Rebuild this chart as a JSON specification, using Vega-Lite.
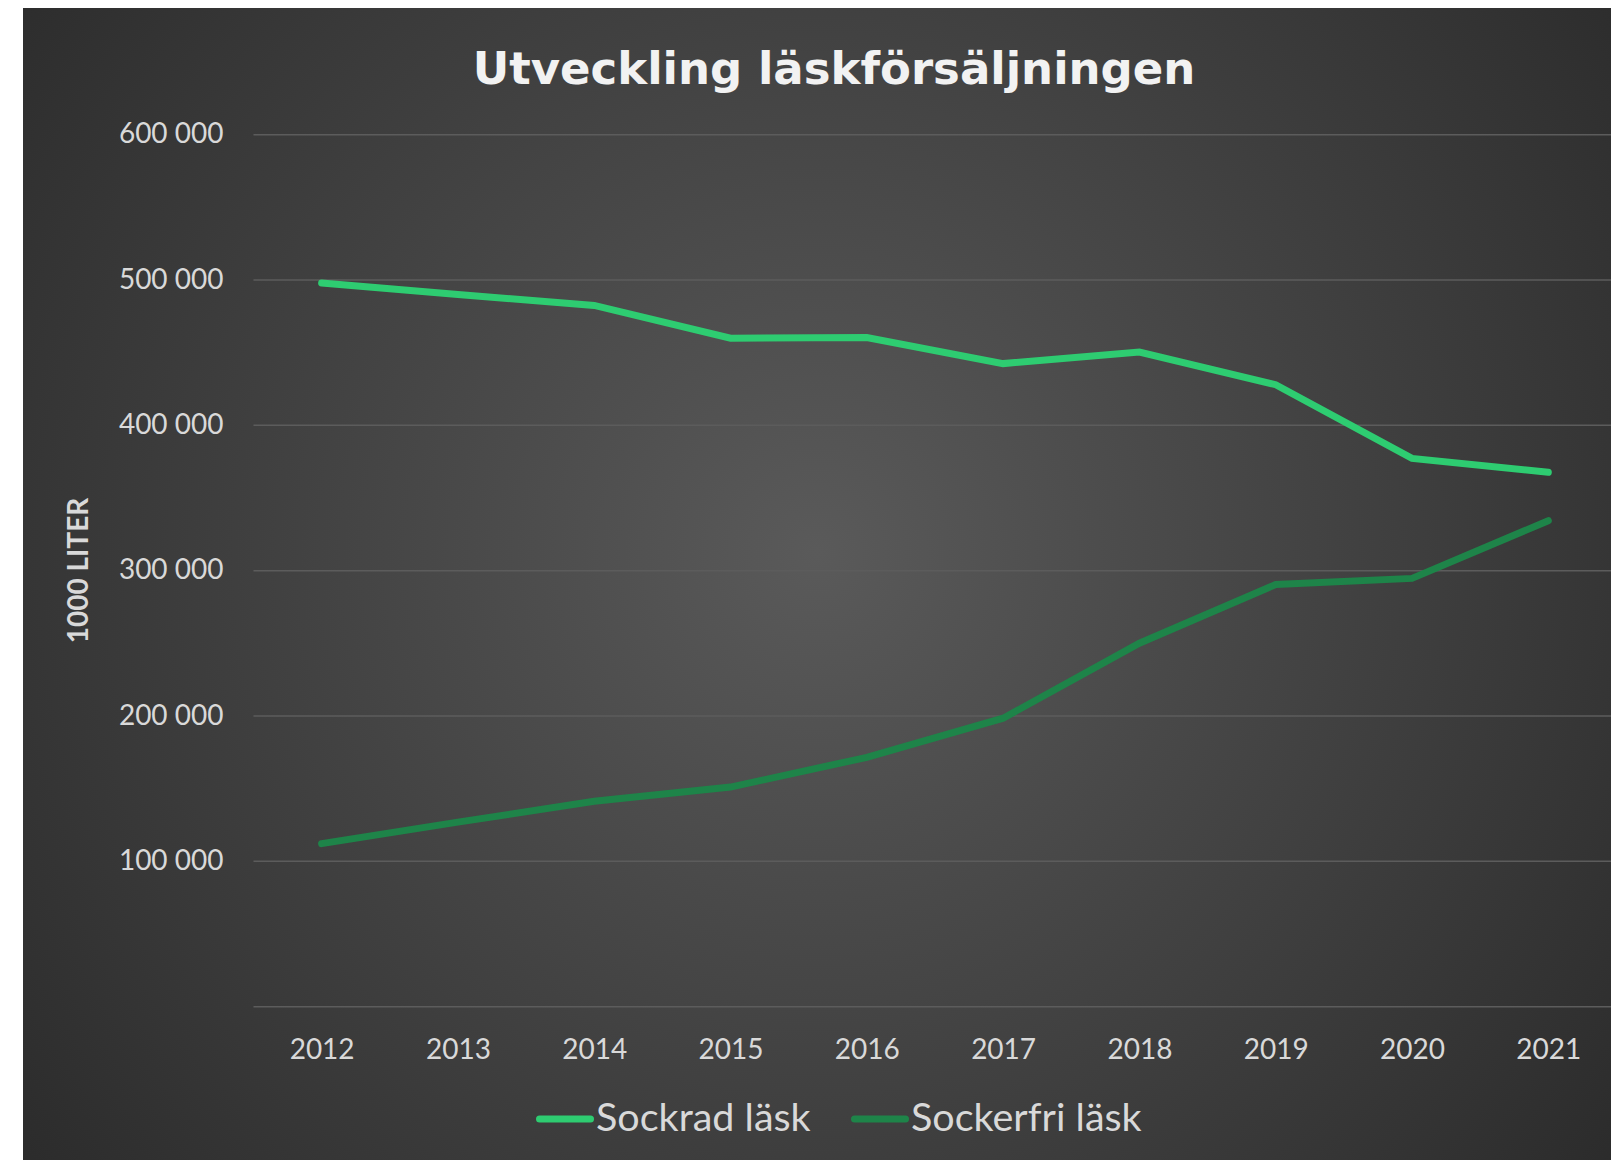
{
  "$schema": "https://vega.github.io/schema/vega-lite/v6.json",
  "width": 1588,
  "height": 1152,
  "autosize": {"type": "none"},
  "padding": {"left": 23, "top": 8, "right": 0, "bottom": 0},
  "background": "#ffffff",
  "config": {
    "view": {
      "stroke": null,
      "fill": {
        "gradient": "radial",
        "x1": 0.5, "y1": 0.48, "r1": 0,
        "x2": 0.5, "y2": 0.48, "r2": 0.72,
        "stops": [
          {"offset": 0, "color": "#5a5a5a"},
          {"offset": 1, "color": "#252525"}
        ]
      }
    }
  },
  "title": {
    "text": "Utveckling läskförsäljningen",
    "font": "DejaVu Sans",
    "fontWeight": "bold",
    "fontSize": 45,
    "color": "#f2f2f2",
    "anchor": "middle",
    "frame": "group",
    "orient": "top",
    "offset": 0,
    "baseline": "alphabetic",
    "dx": 17,
    "dy": 121
  },
  "layer": [
    {
      "data": {"values": [
        {"g": 0}, {"g": 100000}, {"g": 200000}, {"g": 300000},
        {"g": 400000}, {"g": 500000}, {"g": 600000}
      ]},
      "mark": {"type": "rule", "color": "#5c5c5c", "strokeWidth": 1.5},
      "encoding": {
        "y": {"field": "g", "type": "quantitative"},
        "x": {"datum": 2011.5, "type": "quantitative"},
        "x2": {"datum": 2021.5}
      }
    },
    {
      "data": {"values": [
        {"year": 2012, "series": "Sockrad läsk", "value": 498000},
        {"year": 2013, "series": "Sockrad läsk", "value": 490000},
        {"year": 2014, "series": "Sockrad läsk", "value": 482500},
        {"year": 2015, "series": "Sockrad läsk", "value": 460000},
        {"year": 2016, "series": "Sockrad läsk", "value": 460500},
        {"year": 2017, "series": "Sockrad läsk", "value": 442500},
        {"year": 2018, "series": "Sockrad läsk", "value": 450500},
        {"year": 2019, "series": "Sockrad läsk", "value": 428000},
        {"year": 2020, "series": "Sockrad läsk", "value": 377300},
        {"year": 2021, "series": "Sockrad läsk", "value": 367700},
        {"year": 2012, "series": "Sockerfri läsk", "value": 112200},
        {"year": 2013, "series": "Sockerfri läsk", "value": 127000},
        {"year": 2014, "series": "Sockerfri läsk", "value": 141300},
        {"year": 2015, "series": "Sockerfri läsk", "value": 151100},
        {"year": 2016, "series": "Sockerfri läsk", "value": 171600},
        {"year": 2017, "series": "Sockerfri läsk", "value": 198500},
        {"year": 2018, "series": "Sockerfri läsk", "value": 250100},
        {"year": 2019, "series": "Sockerfri läsk", "value": 290500},
        {"year": 2020, "series": "Sockerfri läsk", "value": 294700},
        {"year": 2021, "series": "Sockerfri läsk", "value": 334400}
      ]},
      "mark": {"type": "line", "strokeWidth": 7, "strokeCap": "round"},
      "encoding": {
        "x": {
          "field": "year",
          "type": "quantitative",
          "scale": {"domain": [2009.809, 2021.46], "nice": false, "zero": false},
          "axis": {
            "orient": "bottom",
            "values": [2012, 2013, 2014, 2015, 2016, 2017, 2018, 2019, 2020, 2021],
            "format": "d",
            "title": null,
            "offset": -102,
            "labelPadding": 0,
            "ticks": false,
            "tickSize": 0,
            "domain": false,
            "grid": false,
            "labelFont": "Lato",
            "labelFontSize": 28,
            "labelColor": "#d9d9d9",
            "labelBaseline": "alphabetic",
            "labelOverlap": false,
            "labelFlush": false
          }
        },
        "y": {
          "field": "value",
          "type": "quantitative",
          "scale": {"domain": [-105482, 687179], "nice": false, "zero": false},
          "axis": {
            "orient": "left",
            "values": [100000, 200000, 300000, 400000, 500000, 600000],
            "labelExpr": "format(datum.value / 1000, 'd') + ' 000'",
            "offset": -200,
            "labelPadding": 0,
            "ticks": false,
            "tickSize": 0,
            "domain": false,
            "grid": false,
            "labelFont": "Lato",
            "labelFontSize": 28,
            "labelColor": "#d9d9d9",
            "labelOverlap": false,
            "labelFlush": false,
            "title": "1000 LITER",
            "titleFont": "Lato",
            "titleFontWeight": "bold",
            "titleFontSize": 28,
            "titleColor": "#d9d9d9",
            "titleAngle": -90,
            "titleAlign": "center",
            "titleBaseline": "middle",
            "titleX": -144,
            "titleY": 562
          }
        },
        "color": {
          "field": "series",
          "type": "nominal",
          "scale": {
            "domain": ["Sockrad läsk", "Sockerfri läsk"],
            "range": ["#2ecc71", "#1e8449"]
          },
          "legend": {
            "title": null,
            "orient": "none",
            "direction": "horizontal",
            "legendX": 513,
            "legendY": 1082,
            "padding": 0,
            "symbolType": "stroke",
            "symbolSize": 2601,
            "symbolStrokeWidth": 7,
            "labelFont": "Lato",
            "labelFontSize": 39.5,
            "labelColor": "#d9d9d9",
            "labelOffset": 2,
            "columnPadding": 29,
            "gridAlign": "none",
            "labelLimit": 400,
            "encode": {"symbols": {"update": {"strokeCap": {"value": "round"}}}}
          }
        }
      }
    }
  ]
}
